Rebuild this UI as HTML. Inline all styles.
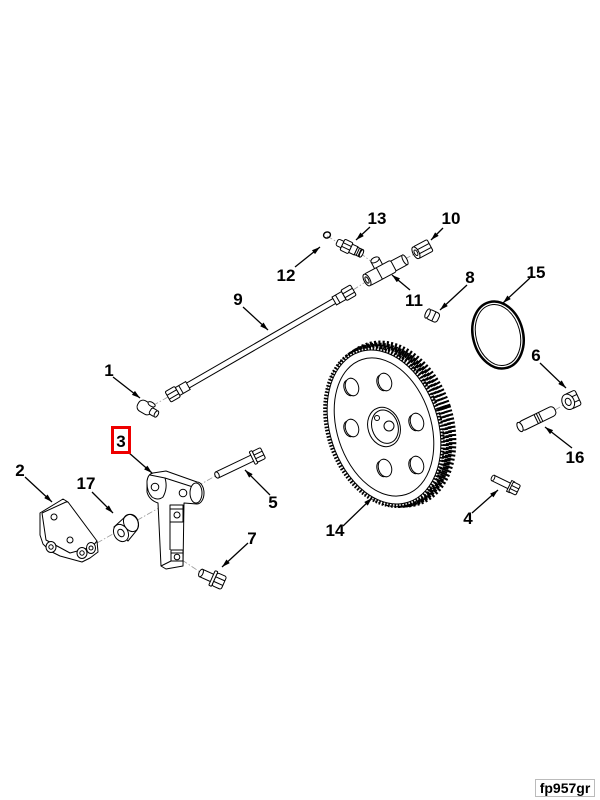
<!DOCTYPE html>
<html><head><meta charset="utf-8"><style>
html,body{margin:0;padding:0;background:#fff;}
svg{display:block;}
text{font-family:"Liberation Sans",Arial,sans-serif;font-weight:bold;font-size:17px;fill:#000;}
</style></head><body>
<svg width="600" height="800" viewBox="0 0 600 800" xmlns="http://www.w3.org/2000/svg">
<defs>
<marker id="a" viewBox="0 0 10 6" refX="10" refY="3" markerWidth="10" markerHeight="5" orient="auto" markerUnits="userSpaceOnUse"><path d="M0,0 L10,3 L0,6 Z" fill="#000"/></marker>
</defs>
<rect width="600" height="800" fill="#fff"/>

<!-- leader (center) lines -->
<g fill="none" stroke="#999" stroke-width="0.8" stroke-dasharray="6 2 1.5 2">
<line x1="97" y1="543" x2="217" y2="475"/>
<line x1="182" y1="560" x2="200" y2="572"/>
<line x1="168" y1="397" x2="152" y2="406"/>
<line x1="353" y1="290" x2="367" y2="281"/>
<line x1="327" y1="236" x2="337" y2="242"/>
<line x1="360" y1="253" x2="372" y2="262"/>
<line x1="405" y1="259" x2="418" y2="252"/>
<line x1="555" y1="410" x2="565" y2="404"/>
</g>

<!-- GEAR 14 -->
<g transform="translate(393,424) rotate(-18)"><ellipse rx="56" ry="81" fill="#fff" stroke="#000" stroke-width="9" stroke-dasharray="2 2"/></g>
<g transform="translate(390,425) rotate(-18)"><ellipse rx="56" ry="81" fill="#fff" stroke="#000" stroke-width="7" stroke-dasharray="2 2"/></g>
<g transform="translate(387,426) rotate(-18)"><ellipse rx="56" ry="81" fill="#fff" stroke="#000" stroke-width="6" stroke-dasharray="2 2"/></g>
<g transform="translate(384,427) rotate(-18)">
<ellipse rx="56" ry="81" fill="#fff" stroke="#000" stroke-width="4" stroke-dasharray="1.6 1.6"/>
<ellipse rx="54" ry="79" fill="#fff" stroke="#000" stroke-width="1"/>
<ellipse rx="47" ry="71" fill="none" stroke="#000" stroke-width="1"/>
</g>
<g fill="#fff" stroke="#000" stroke-width="1">
<g transform="translate(352,387) rotate(-18)"><ellipse rx="6.5" ry="9"/><path d="M-3,-8 A5,8 0 0 0 -3,8" fill="none"/></g>
<g transform="translate(385,382) rotate(-18)"><ellipse rx="6.5" ry="9"/><path d="M-3,-8 A5,8 0 0 0 -3,8" fill="none"/></g>
<g transform="translate(417,422) rotate(-18)"><ellipse rx="6.5" ry="9"/><path d="M-3,-8 A5,8 0 0 0 -3,8" fill="none"/></g>
<g transform="translate(417,465) rotate(-18)"><ellipse rx="6.5" ry="9"/><path d="M-3,-8 A5,8 0 0 0 -3,8" fill="none"/></g>
<g transform="translate(385,468) rotate(-18)"><ellipse rx="6.5" ry="9"/><path d="M-3,-8 A5,8 0 0 0 -3,8" fill="none"/></g>
<g transform="translate(352,428) rotate(-18)"><ellipse rx="6.5" ry="9"/><path d="M-3,-8 A5,8 0 0 0 -3,8" fill="none"/></g>
<g transform="translate(384,427) rotate(-18)"><ellipse rx="16" ry="20"/><ellipse cx="1" rx="13" ry="17"/></g>
<circle cx="377" cy="418" r="2.5"/>
<circle cx="389" cy="426" r="5"/>
</g>

<!-- RING 15 -->
<g transform="translate(498,335) rotate(-15)" fill="none" stroke="#000">
<ellipse rx="25" ry="34" stroke-width="2.5"/>
<ellipse rx="22" ry="31" stroke-width="1"/>
</g>

<!-- HOSE 9 -->
<g transform="translate(168,397) rotate(-30)" fill="#fff" stroke="#000" stroke-width="1">
<line x1="22" y1="-2.8" x2="194" y2="-2.8"/>
<line x1="22" y1="2.8" x2="194" y2="2.8"/>
<rect x="11" y="-4.5" width="12" height="9"/>
<line x1="15" y1="-4.5" x2="15" y2="4.5"/>
<rect x="0" y="-6" width="11" height="12" rx="1.5"/>
<line x1="0" y1="-2" x2="11" y2="-2"/><line x1="0" y1="2.5" x2="11" y2="2.5"/>
<rect x="192" y="-4.5" width="11" height="9"/>
<line x1="196" y1="-4.5" x2="196" y2="4.5"/>
<rect x="203" y="-6" width="11" height="12" rx="1.5"/>
<line x1="203" y1="-2" x2="214" y2="-2"/><line x1="203" y1="2.5" x2="214" y2="2.5"/>
</g>

<!-- ELBOW 1 -->
<g fill="#fff" stroke="#000" stroke-width="1">
<g transform="translate(146,408) rotate(30)">
<rect x="-9" y="-6" width="16" height="12" rx="5"/>
<ellipse cx="3" cy="-6" rx="4" ry="2"/>
<rect x="5" y="-3.5" width="7" height="7" rx="2"/>
<ellipse cx="12" cy="0" rx="1.8" ry="3.5"/>
</g>
</g>

<!-- O-RING 12 -->
<g transform="translate(327,235) rotate(-20)"><ellipse rx="3.5" ry="3" fill="none" stroke="#000" stroke-width="1.4"/></g>

<!-- FITTING 13 -->
<g transform="translate(337,242) rotate(25)" fill="#fff" stroke="#000" stroke-width="1">
<rect x="0" y="-3.5" width="7" height="7" rx="2"/>
<rect x="6" y="-6" width="9" height="12" rx="1.5"/>
<line x1="6" y1="-2" x2="15" y2="-2"/><line x1="6" y1="2" x2="15" y2="2"/>
<rect x="15" y="-4.5" width="6" height="9"/>
<rect x="21" y="-4" width="6" height="8"/>
<line x1="23" y1="-4" x2="23" y2="4"/><line x1="25" y1="-4" x2="25" y2="4"/>
<ellipse cx="27" cy="0" rx="1.5" ry="4"/>
</g>

<!-- TEE 11 -->
<g transform="translate(367,280) rotate(-28)" fill="#fff" stroke="#000" stroke-width="1">
<rect x="28" y="-5.5" width="15" height="11" rx="2"/>
<ellipse cx="43" cy="0" rx="2" ry="5.5"/>
<rect x="12" y="-14" width="9" height="10"/>
<ellipse cx="16.5" cy="-14" rx="4.5" ry="2.5"/>
<rect x="0" y="-6.5" width="30" height="13" rx="2"/>
<line x1="14" y1="-6.5" x2="14" y2="6.5"/>
<ellipse cx="0" cy="0" rx="3" ry="6.5"/>
<ellipse cx="0" cy="0" rx="1.5" ry="3.5"/>
</g>

<!-- NUT 10 -->
<g transform="translate(423,249) rotate(-28)" fill="#fff" stroke="#000" stroke-width="1">
<rect x="-8" y="-6.5" width="16" height="13" rx="1.5"/>
<line x1="-8" y1="-2" x2="8" y2="-2"/><line x1="-8" y1="2.5" x2="8" y2="2.5"/>
<ellipse cx="-8" cy="0" rx="3" ry="6.5"/>
<ellipse cx="-8" cy="0" rx="1.5" ry="3"/>
</g>

<!-- CAP 8 -->
<g transform="translate(433,316) rotate(25)" fill="#fff" stroke="#000" stroke-width="1">
<rect x="-6" y="-5" width="12" height="10" rx="3"/>
<line x1="1" y1="-5" x2="1" y2="5"/>
<ellipse cx="-6" cy="0" rx="2" ry="5"/>
</g>

<!-- NUT 6 -->
<g transform="translate(570,401) rotate(-25)" fill="#fff" stroke="#000" stroke-width="1">
<rect x="-2" y="-8" width="11" height="16" rx="2"/>
<line x1="-2" y1="-3" x2="9" y2="-3"/><line x1="-2" y1="3" x2="9" y2="3"/>
<ellipse cx="-2" cy="0" rx="6" ry="8"/>
<ellipse cx="-2" cy="0" rx="2.8" ry="3.8"/>
</g>

<!-- PIN 16 -->
<g transform="translate(520,427) rotate(-26)" fill="#fff" stroke="#000" stroke-width="1">
<rect x="0" y="-5" width="39" height="10" rx="4"/>
<ellipse cx="0" cy="0" rx="2.5" ry="5"/>
<line x1="18" y1="-5" x2="18" y2="5"/><line x1="20.5" y1="-5" x2="20.5" y2="5"/><line x1="23" y1="-5" x2="23" y2="5"/>
</g>

<!-- BOLT 4 -->
<g transform="translate(493,478) rotate(26)" fill="#fff" stroke="#000" stroke-width="1">
<rect x="0" y="-3" width="19" height="6"/>
<ellipse cx="0" cy="0" rx="1.5" ry="3"/>
<rect x="18" y="-6" width="3" height="12"/>
<rect x="20" y="-5.5" width="8" height="11" rx="1.5"/>
<line x1="20" y1="-1.5" x2="28" y2="-1.5"/><line x1="20" y1="2" x2="28" y2="2"/>
</g>

<!-- BOLT 5 -->
<g transform="translate(217,475) rotate(-25.6)" fill="#fff" stroke="#000" stroke-width="1">
<rect x="0" y="-3.3" width="40" height="6.6"/>
<ellipse cx="0" cy="0" rx="2" ry="3.3"/>
<rect x="39" y="-7" width="3" height="14" rx="1"/>
<rect x="42" y="-6" width="9" height="12" rx="1.5"/>
<line x1="42" y1="-2" x2="51" y2="-2"/><line x1="42" y1="2" x2="51" y2="2"/>
</g>

<!-- BOLT 7 -->
<g transform="translate(201,573) rotate(24)" fill="#fff" stroke="#000" stroke-width="1">
<rect x="0" y="-4" width="13" height="8"/>
<ellipse cx="0" cy="0" rx="2" ry="4"/>
<rect x="12" y="-8" width="3" height="16" rx="1"/>
<rect x="15" y="-7" width="10" height="14" rx="2"/>
<line x1="15" y1="-2.5" x2="25" y2="-2.5"/><line x1="15" y1="2.5" x2="25" y2="2.5"/>
</g>

<!-- BRACKET 3 -->
<g fill="#fff" stroke="#000" stroke-width="1" stroke-linejoin="round">
<path d="M147,481 Q148,474 153,473 L166,471 L197,482 A7,11 0 0 1 197,504 L184,503 L183,566 L166,569 L161,566 L158,503 Q149,500 147,492 Z"/>
<path d="M150,475 L165,478 L193,487" fill="none"/>
<path d="M165,478 Q168,488 163,497 Q158,501 152,497 Q147,492 147,483" fill="none"/>
<ellipse cx="196" cy="493" rx="6" ry="10"/>
<circle cx="155" cy="487" r="3.8"/>
<circle cx="183" cy="493" r="3.8"/>
<rect x="170" y="505" width="13" height="17" fill="#fff"/>
<line x1="170" y1="509" x2="183" y2="509"/>
<circle cx="177" cy="515" r="3"/>
<line x1="170" y1="522" x2="170" y2="550"/>
<rect x="171" y="550" width="12" height="11"/>
<line x1="171" y1="553" x2="183" y2="553"/>
<circle cx="177" cy="557" r="2.8"/>
<line x1="161" y1="566" x2="171" y2="561"/>
</g>

<!-- SPACER 17 -->
<g fill="#fff" stroke="#000" stroke-width="1">
<path d="M114,527 L126,516 A8,10 0 0 1 137,530 L128,541 Z"/>
<ellipse cx="131" cy="523" rx="7" ry="9" transform="rotate(-30 131 523)" fill="none"/>
<ellipse cx="121" cy="533" rx="7" ry="9" transform="rotate(-30 121 533)"/>
<ellipse cx="121" cy="533" rx="3" ry="4" transform="rotate(-30 121 533)"/>
</g>

<!-- PART 2 -->
<g fill="#fff" stroke="#000" stroke-width="1" stroke-linejoin="round">
<path d="M40,513 L63,499 L68,502 L97,541 L98,552 L90,558 L82,562 L60,556 L50,551 L43,544 L40,535 Z"/>
<path d="M42,513 L66,502 L68,502" fill="none"/>
<path d="M42,513 L46,540 L70,553 L92,547 L97,541" fill="none"/>
<circle cx="54" cy="517" r="3"/>
<circle cx="70" cy="540" r="3"/>
<ellipse cx="51" cy="547" rx="5" ry="5.5"/>
<circle cx="51" cy="547" r="2.2"/>
<ellipse cx="82" cy="553" rx="5" ry="5.5"/>
<circle cx="82" cy="553" r="2.2"/>
<ellipse cx="91" cy="548" rx="4.5" ry="5.5"/>
<circle cx="91" cy="548" r="2"/>
</g>

<!-- ARROWS -->
<g stroke="#000" stroke-width="1.3" fill="none" marker-end="url(#a)">
<line x1="113" y1="377" x2="140" y2="398"/>
<line x1="243" y1="307" x2="268" y2="330"/>
<line x1="295" y1="267" x2="320" y2="247"/>
<line x1="370" y1="227" x2="356" y2="240"/>
<line x1="443" y1="228" x2="431" y2="240"/>
<line x1="410" y1="290" x2="392" y2="275"/>
<line x1="467" y1="285" x2="440" y2="310"/>
<line x1="530" y1="278" x2="503" y2="303"/>
<line x1="540" y1="363" x2="566" y2="388"/>
<line x1="572" y1="448" x2="545" y2="427"/>
<line x1="472" y1="513" x2="498" y2="490"/>
<line x1="343" y1="526" x2="372" y2="498"/>
<line x1="128" y1="452" x2="152" y2="473"/>
<line x1="25" y1="477" x2="52" y2="502"/>
<line x1="92" y1="492" x2="113" y2="513"/>
<line x1="270" y1="495" x2="245" y2="470"/>
<line x1="248" y1="543" x2="222" y2="567"/>
</g>

<!-- LABELS -->
<g text-anchor="middle">
<text x="109" y="376">1</text>
<text x="238" y="305">9</text>
<text x="286" y="281">12</text>
<text x="377" y="224">13</text>
<text x="451" y="224">10</text>
<text x="414" y="306">11</text>
<text x="470" y="283">8</text>
<text x="536" y="278">15</text>
<text x="536" y="361">6</text>
<text x="575" y="463">16</text>
<text x="468" y="524">4</text>
<text x="335" y="536">14</text>
<text x="121" y="447">3</text>
<text x="20" y="476">2</text>
<text x="86" y="489">17</text>
<text x="273" y="508">5</text>
<text x="252" y="544">7</text>
</g>
<rect x="112.5" y="427.5" width="17" height="25" fill="none" stroke="#e00" stroke-width="3"/>

<!-- figure id -->
<rect x="535.5" y="779.5" width="59" height="17" fill="#fff" stroke="#bbb" stroke-width="1"/>
<text x="565" y="793" text-anchor="middle" style="font-size:14px">fp957gr</text>
</svg>
</body></html>
